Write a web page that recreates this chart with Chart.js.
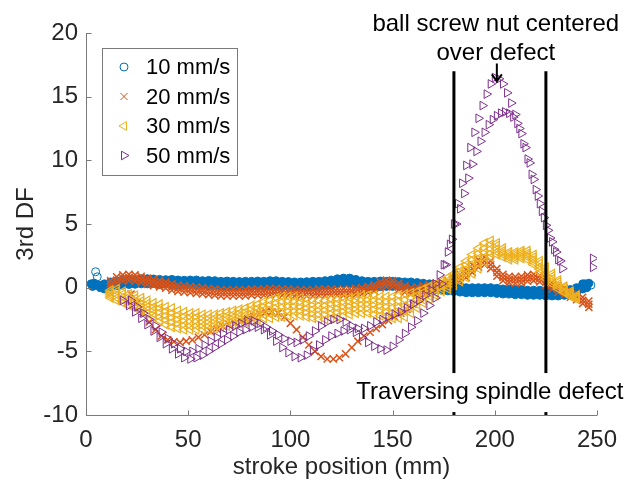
<!DOCTYPE html>
<html>
<head>
<meta charset="utf-8">
<script src="https://cdn.jsdelivr.net/npm/chart.js@4.4.0/dist/chart.umd.min.js"></script>
<style>
  html, body { margin: 0; padding: 0; background: #fff; }
  canvas { display: block; }
</style>
</head>
<body>
<canvas id="dfChart" width="638" height="491"></canvas>
<script>
// axis ticks / labels
const xTicks = [0, 50, 100, 150, 200, 250];
const yTicks = [-10, -5, 0, 5, 10, 15, 20];
const speeds = ['10 mm/s', '20 mm/s', '30 mm/s', '50 mm/s'];
const defectLines = [180, 225];

// 10 mm/s
const blueX = [9,12,15,18,21,24,27,30,33,36,39,42,45,48,51,54,57,60,63,66,69,72,75,78,81,84,87,90,93,96,99,102,105,108,111,114,117,120,123,126,129,132,135,138,141,144,147,150,153,156,159,162,165,168,171,174,177,180,183,186,189,192,195,198,201,204,207,210,213,216,219,222,225,228,231,234,237,240,243];
const blueUpper = [0.3,0.45,0.55,0.6,0.65,0.62,0.7,0.7,0.68,0.65,
  0.63,0.65,0.6,0.58,0.6,0.6,0.55,0.57,0.55,0.5,
  0.52,0.5,0.48,0.5,0.5,0.52,0.5,0.55,0.55,0.5,
  0.48,0.45,0.45,0.47,0.5,0.5,0.55,0.6,0.7,0.75,
  0.75,0.65,0.55,0.5,0.5,0.52,0.5,0.5,0.48,0.45,
  0.45,0.4,0.35,0.3,0.25,0.2,0.15,0.1,0.05,0.0,
  0.0,0.0,0.0,0.0,-0.05,-0.1,-0.1,-0.15,-0.15,-0.2,
  -0.2,-0.2,-0.25,-0.25,-0.25,-0.2,-0.15,0.0,0.3];
const blueLower = [-0.1,0.05,0.15,0.2,0.25,0.27,0.3,0.3,0.32,0.25,
  0.27,0.25,0.2,0.22,0.2,0.2,0.15,0.13,0.15,0.1,
  0.08,0.1,0.12,0.1,0.1,0.08,0.1,0.15,0.15,0.1,
  0.12,0.05,0.05,0.03,0.1,0.1,0.15,0.2,0.3,0.35,
  0.35,0.25,0.15,0.1,0.1,0.08,0.1,0.1,0.12,0.05,
  0.05,0.0,-0.05,-0.1,-0.15,-0.2,-0.25,-0.3,-0.35,-0.4,
  -0.4,-0.4,-0.4,-0.4,-0.45,-0.5,-0.5,-0.55,-0.55,-0.6,
  -0.6,-0.6,-0.65,-0.65,-0.65,-0.6,-0.55,-0.4,-0.1];
const blueBlobX = [2.5, 3.2, 4.0, 5.0, 6.3, 7.0, 7.8, 244, 245, 246];
const blueBlobY = [0.3, 0.1, 0.35, 0.2, 0.2, 0.0, 0.15, 0.3, 0.0, 0.35];
const blueRingX = [4.7, 5.5, 247];
const blueRingY = [1.25, 0.85, 0.2];

// 20 mm/s
const orangeX = [12,15,18,21,24,27,30,33,36,39,42,45,48,51,54,57,60,63,66,69,72,75,78,81,84,87,90,93,96,99,102,105,108,111,114,117,120,123,126,129,132,135,138,141,144,147,150,153,156,159,162,165,168,171,174,177,180,183,186,189,192,195,198,201,204,207,210,213,216,219,222,225,228,231,234,237,240,243,246];
const orangeUpper = [0.55,0.85,1.0,1.05,1.0,0.9,0.75,0.65,0.55,0.45,
  0.3,0.2,0.15,0.1,0.05,0.0,-0.05,-0.1,-0.15,-0.15,
  -0.15,-0.15,-0.15,-0.1,-0.1,-0.1,-0.05,-0.05,-0.1,-0.1,
  -0.15,-0.15,-0.15,-0.15,-0.1,-0.1,-0.1,-0.1,-0.1,-0.1,
  -0.05,0.0,0.1,0.25,0.45,0.6,0.55,0.35,0.15,0.0,
  0.05,0.15,0.25,0.35,0.45,0.55,0.75,1.05,1.4,1.8,
  2.2,2.4,2.1,1.5,1.05,0.9,0.85,0.9,1.0,1.05,
  0.95,0.7,0.4,0.15,-0.05,-0.25,-0.45,-0.75,-1.05];
const orangeMid = [0.3,0.6,0.75,0.8,0.75,0.65,0.5,0.4,0.3,0.2,
  0.05,-0.05,-0.1,-0.15,-0.2,-0.25,-0.3,-0.35,-0.4,-0.4,
  -0.4,-0.4,-0.4,-0.35,-0.35,-0.35,-0.3,-0.3,-0.35,-0.35,
  -0.4,-0.4,-0.4,-0.4,-0.35,-0.35,-0.35,-0.35,-0.35,-0.35,
  -0.3,-0.25,-0.15,0.0,0.2,0.35,0.3,0.1,-0.1,-0.25,
  -0.2,-0.1,0.0,0.1,0.2,0.3,0.5,0.8,1.1,1.5,
  1.9,2.1,1.8,1.2,0.8,0.65,0.6,0.65,0.75,0.8,
  0.7,0.45,0.15,-0.1,-0.3,-0.5,-0.7,-1.0,-1.3];
const orangeLower = [0.1,0.35,0.5,0.55,0.5,0.4,0.25,0.15,0.05,-0.05,
  -0.2,-0.3,-0.35,-0.4,-0.45,-0.5,-0.55,-0.6,-0.65,-0.65,
  -0.65,-0.65,-0.65,-0.6,-0.6,-0.6,-0.55,-0.55,-0.6,-0.6,
  -0.65,-0.65,-0.65,-0.65,-0.6,-0.6,-0.6,-0.6,-0.6,-0.6,
  -0.55,-0.5,-0.4,-0.25,-0.05,0.1,0.05,-0.15,-0.35,-0.5,
  -0.45,-0.35,-0.25,-0.15,-0.05,0.05,0.25,0.55,0.8,1.2,
  1.6,1.8,1.5,0.9,0.55,0.4,0.35,0.4,0.5,0.55,
  0.45,0.2,-0.1,-0.35,-0.55,-0.75,-0.95,-1.25,-1.55];
const orangeSweepX = [22,25,28,31,34,37,40,43,46,49,52,55,58,61,64,67,70,73,76,79,82,85,88,91,94,97,100,103,106,109,112,115,118,121,124,127,130,133,136,139,142,145,148,151,154,157,160,163,166,169,172];
const orangeSweepY = [-0.5,-1.2,-2.0,-2.7,-3.3,-3.8,-4.1,-4.25,-4.3,-4.2,
  -4.1,-3.9,-3.7,-3.45,-3.25,-3.05,-2.9,-2.8,-2.65,-2.45,
  -2.25,-2.05,-1.9,-1.9,-2.0,-2.3,-2.8,-3.3,-3.9,-4.5,
  -5.0,-5.4,-5.6,-5.6,-5.5,-5.2,-4.7,-4.2,-3.8,-3.5,
  -3.2,-2.9,-2.6,-2.3,-2.0,-1.7,-1.3,-0.9,-0.5,-0.2,0.1];

// 30 mm/s
const yellowX = [12,15,18,21,24,27,30,33,36,39,42,45,48,51,54,57,60,63,66,69,72,75,78,81,84,87,90,93,96,99,102,105,108,111,114,117,120,123,126,129,132,135,138,141,144,147,150,153,156,159,162,165,168,171,174,177,180,183,186,189,192,195,198,201,204,207,210,213,216,219,222,225,228,231,234,237,240];
const yellowTop = [-0.2,-0.1,-0.3,-0.5,-0.6,-0.8,-1.0,-1.2,-1.3,-1.5,
  -1.6,-1.8,-1.9,-2.0,-2.0,-2.1,-2.1,-2.1,-2.0,-1.9,
  -1.8,-1.7,-1.6,-1.4,-1.3,-1.1,-1.0,-0.8,-0.7,-0.7,
  -0.7,-0.8,-0.9,-1.0,-1.0,-1.0,-0.9,-0.9,-0.8,-0.8,
  -0.7,-0.6,-0.6,-0.6,-0.7,-0.7,-0.7,-0.6,-0.5,-0.4,
  -0.3,-0.1,0.1,0.3,0.5,0.8,1.1,1.6,2.1,2.6,
  3.1,3.5,3.7,3.5,3.1,2.8,2.8,2.9,2.9,2.6,
  2.1,1.6,1.1,0.6,0.1,-0.3,-0.6];
const yellowUpperMid = [-0.35,-0.3,-0.5,-0.7,-0.85,-1.05,-1.25,-1.5,-1.6,-1.85,
  -2.0,-2.15,-2.25,-2.3,-2.3,-2.4,-2.4,-2.4,-2.3,-2.2,
  -2.1,-2.0,-1.9,-1.7,-1.6,-1.45,-1.35,-1.2,-1.1,-1.05,
  -1.1,-1.15,-1.25,-1.35,-1.4,-1.4,-1.3,-1.25,-1.15,-1.1,
  -1.0,-0.95,-0.95,-1.0,-1.05,-1.1,-1.1,-1.05,-0.95,-0.8,
  -0.6,-0.4,-0.15,0.1,0.3,0.55,0.9,1.3,1.8,2.2,
  2.7,3.1,3.4,3.3,2.9,2.65,2.65,2.75,2.7,2.4,
  1.9,1.4,0.9,0.45,0.0,-0.4,-0.7];
const yellowMid = [-0.5,-0.55,-0.75,-0.95,-1.1,-1.3,-1.5,-1.75,-1.95,-2.2,
  -2.35,-2.5,-2.6,-2.65,-2.65,-2.7,-2.7,-2.65,-2.55,-2.45,
  -2.35,-2.25,-2.15,-2.0,-1.9,-1.75,-1.7,-1.55,-1.5,-1.45,
  -1.45,-1.5,-1.6,-1.7,-1.75,-1.75,-1.65,-1.6,-1.5,-1.45,
  -1.35,-1.3,-1.3,-1.35,-1.45,-1.5,-1.55,-1.5,-1.4,-1.2,
  -0.95,-0.65,-0.4,-0.15,0.1,0.35,0.65,1.05,1.45,1.85,
  2.3,2.75,3.05,3.05,2.75,2.5,2.5,2.6,2.55,2.2,
  1.65,1.15,0.7,0.25,-0.15,-0.5,-0.75];
const yellowLowerMid = [-0.65,-0.8,-1.0,-1.2,-1.35,-1.55,-1.75,-2.05,-2.3,-2.55,
  -2.7,-2.85,-2.95,-3.0,-3.0,-3.0,-3.0,-2.95,-2.85,-2.75,
  -2.6,-2.5,-2.45,-2.3,-2.2,-2.1,-2.05,-1.95,-1.9,-1.85,
  -1.85,-1.85,-1.95,-2.05,-2.1,-2.1,-2.0,-1.95,-1.85,-1.8,
  -1.7,-1.65,-1.65,-1.7,-1.8,-1.9,-1.95,-1.95,-1.85,-1.6,
  -1.3,-0.95,-0.65,-0.4,-0.1,0.1,0.4,0.8,1.1,1.5,
  1.9,2.4,2.7,2.8,2.6,2.35,2.35,2.45,2.4,2.0,
  1.45,0.95,0.5,0.1,-0.3,-0.6,-0.8];
const yellowBottom = [-0.8,-1.0,-1.2,-1.4,-1.6,-1.8,-2.0,-2.3,-2.6,-2.9,
  -3.1,-3.2,-3.3,-3.3,-3.3,-3.3,-3.3,-3.2,-3.1,-3.0,
  -2.9,-2.8,-2.7,-2.6,-2.5,-2.4,-2.4,-2.3,-2.3,-2.2,
  -2.2,-2.2,-2.3,-2.4,-2.5,-2.5,-2.4,-2.3,-2.2,-2.1,
  -2.0,-2.0,-2.0,-2.1,-2.2,-2.3,-2.4,-2.4,-2.3,-2.0,
  -1.6,-1.2,-0.9,-0.6,-0.3,-0.1,0.2,0.5,0.8,1.1,
  1.5,2.0,2.4,2.6,2.4,2.2,2.2,2.3,2.2,1.8,
  1.2,0.7,0.3,-0.1,-0.4,-0.7,-0.9];

// 50 mm/s
const purpleX1 = [18,21,24,27,30,33,36,39,42,45,48,51,54,57,60,63,66,69,72,75,78,81,84,87,90,93,96,99,102,105,108,111,114,117,120,123,126,129,132,135,138,141,144,147,150,153,156,159,162,165,168,171,174,176,178,180,182,184,186,188,190,192,194,196,198,200,202,204,206,208,210,212,214,216,218,220,222,224,226,228,230,232];
const purpleY1 = [-1.0,-1.4,-1.9,-2.4,-2.9,-3.4,-3.9,-4.4,-4.8,-5.2,
  -5.5,-5.6,-5.5,-5.3,-5.0,-4.7,-4.4,-4.1,-3.8,-3.5,
  -3.3,-3.1,-3.1,-3.3,-3.7,-4.2,-4.7,-5.1,-5.4,-5.5,
  -5.3,-4.9,-4.5,-4.1,-3.8,-3.6,-3.4,-3.3,-3.5,-3.9,
  -4.3,-4.6,-4.8,-4.9,-4.6,-4.1,-3.6,-3.1,-2.6,-2.0,
  -1.4,-0.8,0.3,1.8,3.4,5.0,6.6,8.2,9.6,11.0,
  12.2,13.3,14.3,15.2,16.0,16.5,16.4,16.0,15.3,14.5,
  13.6,12.5,11.3,10.1,8.9,7.7,6.6,5.5,4.5,3.6,2.8,2.1];
const purpleX2 = [22,25,28,31,34,37,40,43,46,49,52,55,58,61,64,67,70,73,76,79,82,85,88,91,94,97,100,103,106,109,112,115,118,121,124,127,130,133,136,139,142,145,148,151,154,157,160,163,166,169,171,173,175,177,179,181,183,185,187,189,191,193,195,197,199,201,203,205,207,209,211,213,215,217,219,221,223,225,227,229,231,233,248,248];
const purpleY2 = [-1.0,-1.5,-2.0,-2.5,-3.0,-3.5,-4.0,-4.4,-4.8,-5.0,
  -5.0,-4.8,-4.5,-4.2,-3.9,-3.6,-3.3,-3.0,-2.8,-2.6,
  -2.6,-2.8,-3.1,-3.4,-3.7,-4.0,-4.2,-4.3,-4.1,-3.8,
  -3.4,-3.0,-2.7,-2.5,-2.5,-2.7,-3.0,-3.2,-3.2,-3.0,
  -2.7,-2.5,-2.3,-2.1,-1.9,-1.6,-1.3,-1.0,-0.6,-0.2,
  0.3,1.0,1.8,2.8,3.8,5.0,6.2,7.4,8.6,9.7,
  10.7,11.5,12.2,12.8,13.2,13.5,13.7,13.8,13.7,13.4,
  12.9,12.1,11.0,9.8,8.5,7.2,6.0,4.9,3.9,3.0,2.2,1.5,2.3,1.6];

const FONT = "'Liberation Sans', Arial, sans-serif";
const AXIS_COLOR = '#262626';
const colors = ['#0072BD', '#D95319', '#EDB120', '#7E2F8E'];
const markers = [
  { pointStyle: 'circle', rotation: 0, radius: 4, width: 1 },
  { pointStyle: 'crossRot', rotation: 0, radius: 5, width: 1.5 },
  { pointStyle: 'triangle', rotation: -90, radius: 5, width: 1.2 },
  { pointStyle: 'triangle', rotation: 90, radius: 5, width: 1 }
];

const pts = (xs, ys) => xs.map((x, i) => ({ x: x, y: ys[i] }));

function scatterSet(series, xs, ys, filled) {
  const m = markers[series];
  return {
    label: speeds[series],
    data: pts(xs, ys),
    showLine: false,
    pointStyle: m.pointStyle,
    rotation: m.rotation,
    pointRadius: m.radius,
    pointHoverRadius: m.radius,
    borderColor: colors[series],
    backgroundColor: filled ? colors[series] : 'rgba(0,0,0,0)',
    pointBorderWidth: m.width,
    order: 4 - series
  };
}

// legend glyphs, same shapes as the point styles
function drawMarker(ctx, series, cx, cy) {
  const m = markers[series];
  const r = m.radius;
  ctx.strokeStyle = colors[series];
  ctx.lineWidth = 1;
  ctx.beginPath();
  if (m.pointStyle === 'circle') {
    ctx.arc(cx, cy, r, 0, Math.PI * 2);
  } else if (m.pointStyle === 'crossRot') {
    const d = r * Math.SQRT1_2;
    ctx.moveTo(cx - d, cy - d); ctx.lineTo(cx + d, cy + d);
    ctx.moveTo(cx - d, cy + d); ctx.lineTo(cx + d, cy - d);
  } else {
    let rad = m.rotation * Math.PI / 180;
    ctx.moveTo(cx + Math.sin(rad) * r, cy - Math.cos(rad) * r);
    for (let k = 0; k < 2; k++) {
      rad += Math.PI * 2 / 3;
      ctx.lineTo(cx + Math.sin(rad) * r, cy - Math.cos(rad) * r);
    }
    ctx.closePath();
  }
  ctx.stroke();
}

const overlay = {
  id: 'overlay',
  afterDatasetsDraw(chart) {
    const { ctx, scales: { x, y } } = chart;
    ctx.save();

    // defect boundary lines
    ctx.strokeStyle = '#000';
    ctx.lineWidth = 3;
    defectLines.forEach(v => {
      const px = x.getPixelForValue(v);
      ctx.beginPath();
      ctx.moveTo(px, y.getPixelForValue(-10));
      ctx.lineTo(px, y.getPixelForValue(17));
      ctx.stroke();
    });

    // bottom label, white box hides the lines behind it
    ctx.font = '24px ' + FONT;
    ctx.textAlign = 'center';
    ctx.textBaseline = 'middle';
    const tx = x.getPixelForValue(197.6), ty = y.getPixelForValue(-8.2);
    const tw = ctx.measureText('Traversing spindle defect').width;
    ctx.fillStyle = '#fff';
    ctx.fillRect(tx - tw / 2 - 4, ty - 19, tw + 8, 39);
    ctx.fillStyle = '#000';
    ctx.fillText('Traversing spindle defect', tx, ty);

    // top labels + arrow
    const ax = x.getPixelForValue(200.5);
    ctx.fillText('ball screw nut centered', ax, y.getPixelForValue(20.7));
    ctx.fillText('over defect', ax, y.getPixelForValue(18.4));
    const arx = x.getPixelForValue(201);
    const ar0 = y.getPixelForValue(17.6), ar1 = y.getPixelForValue(16.2);
    ctx.lineWidth = 2;
    ctx.beginPath();
    ctx.moveTo(arx, ar0); ctx.lineTo(arx, ar1);
    ctx.moveTo(arx - 5, ar1 - 7); ctx.lineTo(arx, ar1); ctx.lineTo(arx + 5, ar1 - 7);
    ctx.stroke();
    ctx.restore();
  },
  afterDraw(chart) {
    const { ctx, chartArea: area, scales: { x, y } } = chart;
    ctx.save();
    // axes with inward ticks
    ctx.strokeStyle = '#7a7a7a';
    ctx.lineWidth = 1;
    const l = Math.round(area.left) + 0.5, b = Math.round(area.bottom) + 0.5;
    ctx.beginPath();
    ctx.moveTo(l, Math.round(area.top));
    ctx.lineTo(l, b);
    ctx.lineTo(Math.round(area.right), b);
    xTicks.forEach(v => {
      const px = Math.round(x.getPixelForValue(v)) + 0.5;
      ctx.moveTo(px, b); ctx.lineTo(px, b - 5);
    });
    yTicks.forEach(v => {
      const py = Math.round(y.getPixelForValue(v)) + 0.5;
      ctx.moveTo(l, py); ctx.lineTo(l + 5, py);
    });
    ctx.stroke();

    // legend box
    const bx = 102.5, by = 48.5, bw = 135, bh = 127;
    ctx.fillStyle = '#fff';
    ctx.fillRect(bx, by, bw, bh);
    ctx.strokeStyle = '#7a7a7a';
    ctx.strokeRect(bx, by, bw, bh);
    ctx.font = '22px ' + FONT;
    ctx.textAlign = 'left';
    ctx.textBaseline = 'middle';
    speeds.forEach((s, i) => {
      const ry = 67 + i * 29.5;
      drawMarker(ctx, i, 124, ry);
      ctx.fillStyle = '#000';
      ctx.fillText(s, 146, ry + 1);
    });
    ctx.restore();
  }
};

new Chart(document.getElementById('dfChart').getContext('2d'), {
  type: 'scatter',
  data: {
    datasets: [
      scatterSet(0, blueX, blueUpper, true),
      scatterSet(0, blueX, blueLower, true),
      scatterSet(0, blueBlobX, blueBlobY, true),
      scatterSet(0, blueRingX, blueRingY, false),
      scatterSet(1, orangeX, orangeUpper, false),
      scatterSet(1, orangeX, orangeMid, false),
      scatterSet(1, orangeX, orangeLower, false),
      scatterSet(1, orangeSweepX, orangeSweepY, false),
      scatterSet(2, yellowX, yellowTop, false),
      scatterSet(2, yellowX, yellowUpperMid, false),
      scatterSet(2, yellowX, yellowMid, false),
      scatterSet(2, yellowX, yellowLowerMid, false),
      scatterSet(2, yellowX, yellowBottom, false),
      scatterSet(3, purpleX1, purpleY1, false),
      scatterSet(3, purpleX2, purpleY2, false)
    ]
  },
  options: {
    responsive: false,
    animation: false,
    devicePixelRatio: 1,
    layout: { padding: { top: 33, right: 41, left: 0, bottom: 0 } },
    plugins: {
      legend: { display: false },
      tooltip: { enabled: false }
    },
    scales: {
      x: {
        type: 'linear',
        min: 0,
        max: 250,
        afterFit: s => { s.height = 76; },
        afterBuildTicks: s => { s.ticks = xTicks.map(v => ({ value: v })); },
        grid: { display: false, drawTicks: false },
        border: { display: false },
        ticks: { color: AXIS_COLOR, font: { family: FONT, size: 24 }, padding: 11, maxRotation: 0 },
        title: { display: true, text: 'stroke position (mm)', color: AXIS_COLOR, font: { family: FONT, size: 24 }, padding: { top: 0, bottom: 9 } }
      },
      y: {
        type: 'linear',
        min: -10,
        max: 20,
        afterFit: s => { s.width = 86; },
        afterBuildTicks: s => { s.ticks = yTicks.map(v => ({ value: v })); },
        grid: { display: false, drawTicks: false },
        border: { display: false },
        ticks: { color: AXIS_COLOR, font: { family: FONT, size: 24 }, padding: 8 },
        title: { display: true, text: '3rd DF', color: AXIS_COLOR, font: { family: FONT, size: 24 }, padding: { top: 12, bottom: 0 } }
      }
    }
  },
  plugins: [overlay]
});
</script>
</body>
</html>
